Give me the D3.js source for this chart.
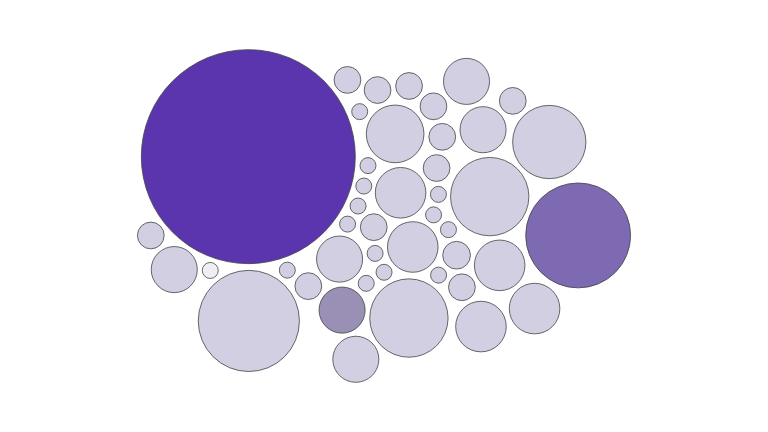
<!DOCTYPE html>
<html>
<head>
<meta charset="utf-8">
<script src="https://cdn.jsdelivr.net/npm/d3@7"></script>
<style>
  html, body { margin: 0; padding: 0; background: #fff; }
  svg { display: block; }
</style>
</head>
<body>
<div id="container"></div>
<script>
// bubble values, in the order they are fed to the simulation
var values = [24, 24, 21, 10, 8.3, 2.8, 1, 13, 1, 40, 1, 1, 1, 1, 1, 2.8, 1, 8.3, 2.8, 2.8,
              1, 10, 2.8, 8.3, 10, 1, 8.3, 8.3, 2.8, 3, 2.8, 2.8, 10, 179, 2.8, 1, 1, 10,
              1, 2.8, 8.3, 2.8, 43, 1];
// colour level of each bubble (0 = palest, 4 = darkest)
var levels = [1, 1, 1, 1, 1, 1, 1, 1, 1, 1, 1, 1, 1, 1, 1, 1, 1, 1, 1, 1,
              1, 1, 1, 1, 1, 1, 1, 2, 1, 1, 1, 1, 1, 4, 1, 1, 1, 1,
              1, 1, 1, 1, 3, 0];
var palette = ["#efeef4", "#d3cfe2", "#9a8fb4", "#7e69b3", "#5b35ad"];

var width = 768, height = 432;

var svg = d3.select("#container")
    .append("svg")
        .attr("width", width)
        .attr("height", height);

var radius = d3.scaleSqrt()
    .domain([0, d3.max(values)])
    .range([0, 107]);

var color = d3.scaleOrdinal()
    .domain([0, 1, 2, 3, 4])
    .range(palette);

var nodes = values.map(function(v, i) {
    return {value: v, level: levels[i], r: radius(v)};
});

var sim = d3.forceSimulation(nodes)
    .force("x", d3.forceX(0).strength(0.018))
    .force("y", d3.forceY(0).strength(0.055))
    .force("collide", d3.forceCollide(function(d) { return d.r + 2.5; }).strength(0.6).iterations(2))
    .stop();

for (var i = 0; i < 300; i++) sim.tick();

// centre the packed group in the frame
var x0 = d3.min(nodes, function(d) { return d.x - d.r; }),
    x1 = d3.max(nodes, function(d) { return d.x + d.r; }),
    y0 = d3.min(nodes, function(d) { return d.y - d.r; }),
    y1 = d3.max(nodes, function(d) { return d.y + d.r; });
var dx = width / 2 - (x0 + x1) / 2,
    dy = height / 2 - (y0 + y1) / 2;

svg.append("g")
    .attr("transform", "translate(" + dx + "," + dy + ")")
  .selectAll("circle")
    .data(nodes)
    .enter()
    .append("circle")
        .attr("cx", function(d) { return d.x; })
        .attr("cy", function(d) { return d.y; })
        .attr("r", function(d) { return d.r; })
        .style("fill", function(d) { return color(d.level); })
        .style("stroke", "#444")
        .style("stroke-width", 0.8);
</script>
</body>
</html>
